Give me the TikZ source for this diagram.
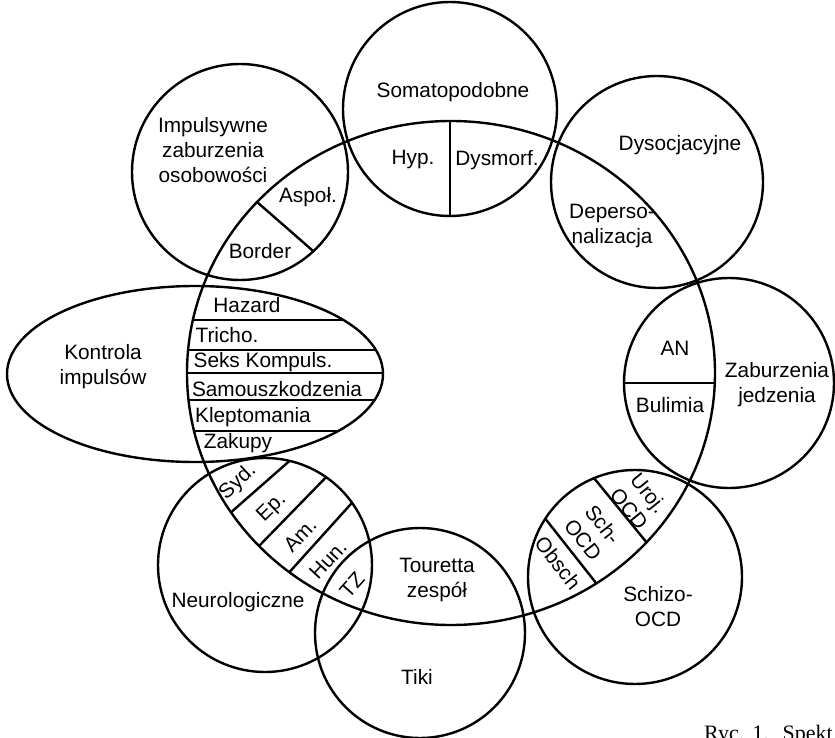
\documentclass[tikz,border=0pt]{standalone}
\usepackage{fontspec}
\setmainfont{Liberation Sans}
\newfontfamily\captionserif{Liberation Serif}
\begin{document}
\begin{tikzpicture}[x=1pt, y=-1pt, line width=2.4pt,
  lbl/.style={font=\fontsize{20.8}{25}\selectfont, align=center, inner sep=0pt},
  divider/.style={shorten <=-18pt, shorten >=-18pt},
]
\useasboundingbox (0,0) rectangle (835,738);
\clip (0,0) rectangle (835,738);

% centres of the outer groups
\coordinate (cBig)   at (451,373);
\coordinate (cSoma)  at (450,109);
\coordinate (cImp)   at (240,172);
\coordinate (cDys)   at (657,182);
\coordinate (cEat)   at (729,383);
\coordinate (cSch)   at (635,577);
\coordinate (cTic)   at (420,633);
\coordinate (cNeu)   at (265,565);
\coordinate (cKon)   at (195,374);

% dividers inside the overlaps
\begin{scope}
  \clip (cBig) ellipse [x radius=264, y radius=252];
  \clip (cSoma) circle [radius=107];
  \coordinate (s1) at (450,120); \coordinate (s2) at (450,216);
  \draw[divider] (s1) -- (s2);
\end{scope}
\begin{scope}
  \clip (cBig) ellipse [x radius=264, y radius=252];
  \clip (cImp) circle [radius=108];
  \coordinate (i1) at (257,202); \coordinate (i2) at (312,250);
  \draw[divider] (i1) -- (i2);
\end{scope}
\begin{scope}
  \clip (cBig) ellipse [x radius=264, y radius=252];
  \clip (cKon) ellipse [x radius=188, y radius=88];
  \foreach \yy [count=\k] in {320,350,373,400,431} {
    \coordinate (ka\k) at (150,\yy); \coordinate (kb\k) at (420,\yy);
    \draw (ka\k) -- (kb\k);
  }
\end{scope}
\begin{scope}
  \clip (cBig) ellipse [x radius=264, y radius=252];
  \clip (cEat) circle [radius=105];
  \coordinate (e1) at (600,383); \coordinate (e2) at (740,383);
  \draw (e1) -- (e2);
\end{scope}
\begin{scope}
  \clip (cBig) ellipse [x radius=264, y radius=252];
  \clip (cNeu) circle [radius=107];
  \coordinate (n1a) at (231.7,511.7); \coordinate (n1b) at (286,464);
  \coordinate (n2a) at (260,545);     \coordinate (n2b) at (324,479.3);
  \coordinate (n3a) at (290.7,570.7); \coordinate (n3b) at (350,505);
  \draw[divider] (n1a) -- (n1b);
  \draw[divider] (n2a) -- (n2b);
  \draw[divider] (n3a) -- (n3b);
\end{scope}
\begin{scope}
  \clip (cBig) ellipse [x radius=264, y radius=252];
  \clip (cSch) circle [radius=107];
  \coordinate (o1a) at (545,518.3); \coordinate (o1b) at (595,581.7);
  \coordinate (o2a) at (595,479.3); \coordinate (o2b) at (646,541.7);
  \draw[divider] (o1a) -- (o1b);
  \draw[divider] (o2a) -- (o2b);
\end{scope}

% outlines
\draw (cBig) ellipse [x radius=264, y radius=252];
\draw (cSoma) circle [radius=107];
\draw (cImp) circle [radius=108];
\draw (cDys) circle [radius=106];
\draw (cEat) circle [radius=105];
\draw (cSch) circle [radius=107];
\draw (cTic) circle [radius=105];
\draw (cNeu) circle [radius=107];
\draw (cKon) ellipse [x radius=188, y radius=88];

% labels
\node[lbl] (somato) at (453,92) {Somatopodobne};
\node[lbl] (hyp) at (413,160) {Hyp.};
\node[lbl] (dysm) at (497,160) {Dysmorf.};
\node[lbl] (impz) at (213,150) {Impulsywne\\zaburzenia\\osobowości};
\node[lbl] (aspol) at (308,197) {Aspoł.};
\node[lbl] (border) at (260,251) {Border};
\node[lbl] (dysoc) at (680,145) {Dysocjacyjne};
\node[lbl] (deper) at (612,226) {Deperso-\\nalizacja};
\node[lbl] (an) at (675,348) {AN};
\node[lbl] (bul) at (670,405) {Bulimia};
\node[lbl] (eat) at (777,385) {Zaburzenia\\jedzenia};
\node[lbl] (kontr) at (103,367) {Kontrola\\impulsów};
\node[lbl] (haz) at (247,305) {Hazard};
\node[lbl] (tri) at (227,335) {Tricho.};
\node[lbl] (seks) at (263,362) {Seks Kompuls.};
\node[lbl] (samo) at (277,389) {Samouszkodzenia};
\node[lbl] (klep) at (253,417) {Kleptomania};
\node[lbl] (zak) at (238,443) {Zakupy};
\node[lbl] (neuro) at (238,602) {Neurologiczne};
\node[lbl] (syd) at (238,482) [rotate=43] {Syd.};
\node[lbl] (ep) at (272,508) [rotate=44] {Ep.};
\node[lbl] (am) at (300,535) [rotate=46] {Am.};
\node[lbl] (hun) at (328,560) [rotate=47] {Hun.};
\node[lbl] (tz) at (352,585) [rotate=48] {TZ};
\node[lbl] (tour) at (437,580) {Touretta\\zespół};
\node[lbl] (tiki) at (417,677) {Tiki};
\node[lbl] (obsch) at (558,563) [rotate=-52] {Obsch};
\node[lbl] (schocd) at (593,532) [rotate=-52] {Sch-\\OCD};
\node[lbl] (uroj) at (639,501) [rotate=-51] {Uroj.\\OCD};
\node[lbl] (schizo) at (658,607) {Schizo-\\OCD};

% figure caption, running off the page edge
\node[anchor=base west, inner sep=0pt, font=\captionserif\fontsize{22}{26}\selectfont] (cap) at (703,740)
  {Ryc.\hspace{8pt}1.\hspace{14pt}Spekt};
\end{tikzpicture}
\end{document}
